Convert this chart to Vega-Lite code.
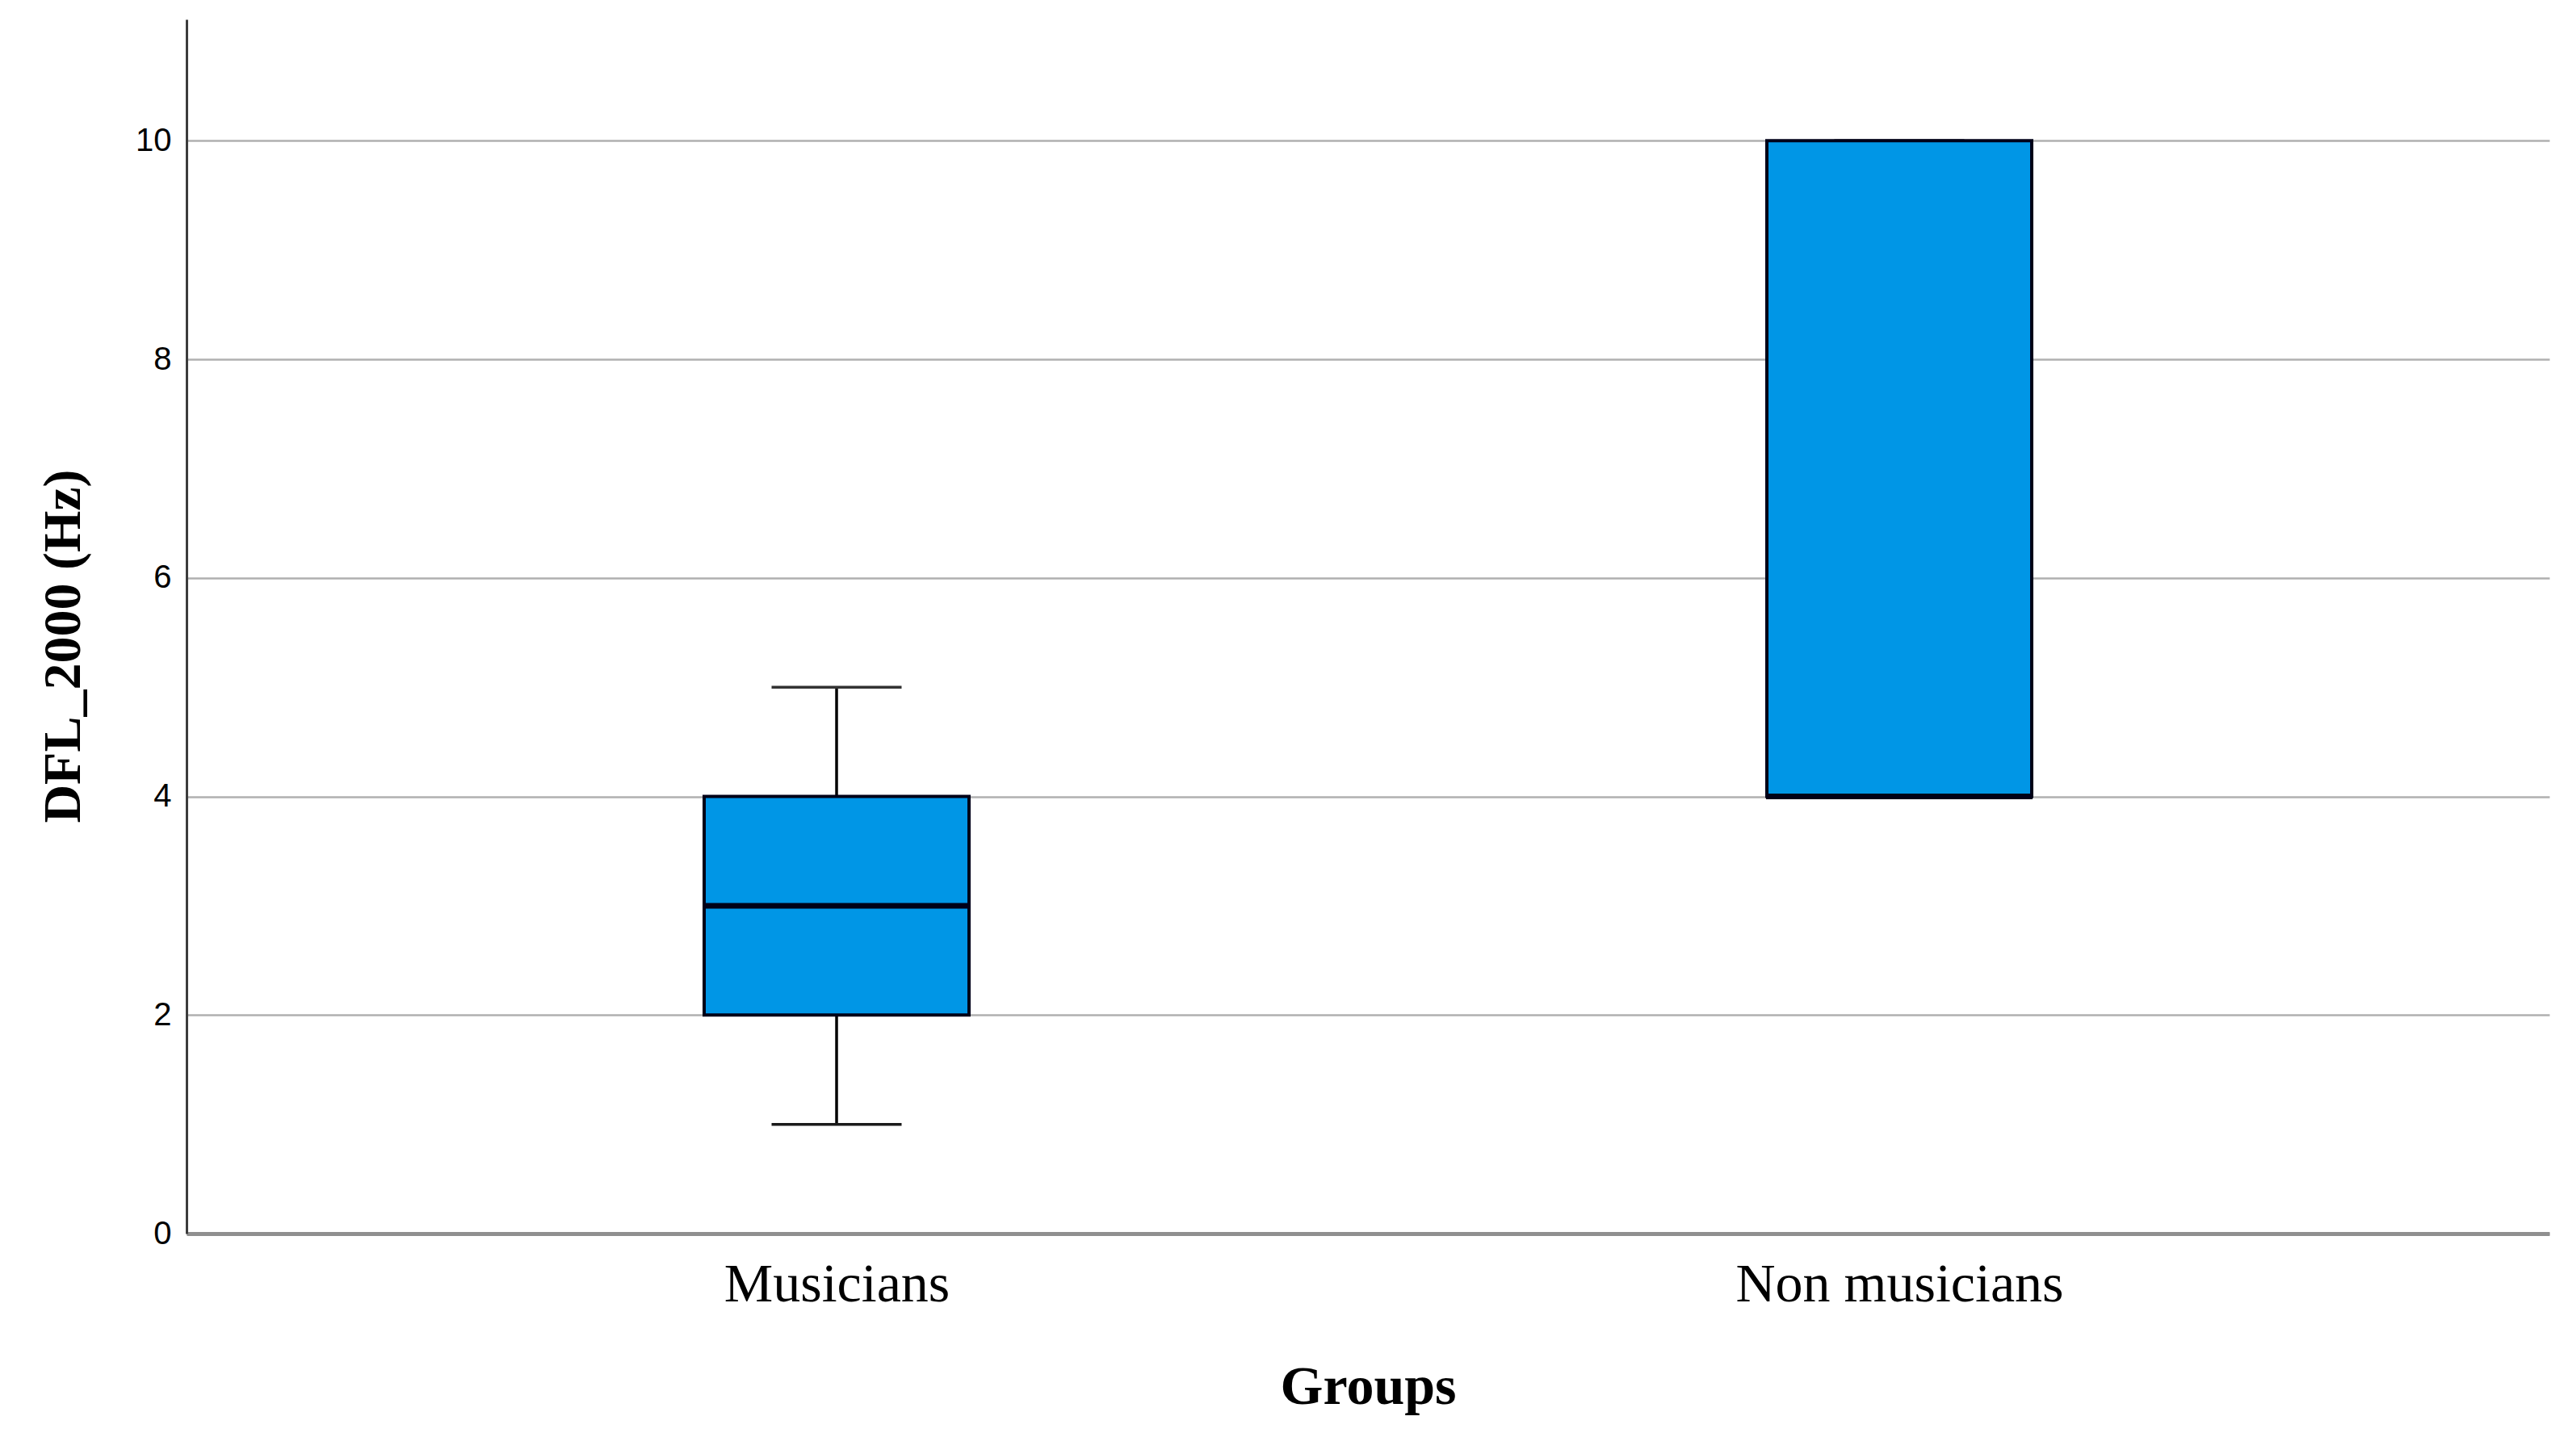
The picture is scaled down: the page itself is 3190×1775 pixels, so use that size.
{
  "$schema": "https://vega.github.io/schema/vega-lite/v6.json",
  "autosize": {"type": "none"},
  "padding": {"left": 231, "top": 24, "right": 33, "bottom": 247},
  "width": 2926,
  "height": 1504,
  "background": "white",
  "data": {
    "values": [
      {"group": "Musicians", "min": 1, "q1": 2, "median": 3, "q3": 4, "max": 5},
      {"group": "Non musicians", "min": 4, "q1": 4, "median": 4, "q3": 10, "max": 10}
    ]
  },
  "encoding": {
    "x": {
      "field": "group",
      "type": "nominal",
      "title": "Groups",
      "sort": ["Musicians", "Non musicians"],
      "scale": {"type": "point", "padding": 0.6117},
      "axis": {"labelAngle": 0, "labelLimit": 0}
    }
  },
  "layer": [
    {
      "mark": {"type": "rule", "color": "#000000", "strokeWidth": 3.5},
      "encoding": {
        "y": {"field": "min", "type": "quantitative", "title": "DFL_2000 (Hz)", "scale": {"domain": [0, 11.11], "nice": false, "zero": true}, "axis": {"values": [0, 2, 4, 6, 8, 10], "format": "d"}},
        "y2": {"field": "q1"}
      }
    },
    {
      "mark": {"type": "rule", "color": "#000000", "strokeWidth": 3.5},
      "encoding": {
        "y": {"field": "q3", "type": "quantitative", "title": "DFL_2000 (Hz)"},
        "y2": {"field": "max"}
      }
    },
    {
      "mark": {"type": "tick", "color": "#1a1a1a", "size": 161, "thickness": 3.5, "opacity": 1},
      "encoding": {
        "y": {"field": "min", "type": "quantitative", "title": "DFL_2000 (Hz)"}
      }
    },
    {
      "mark": {"type": "tick", "color": "#333333", "size": 161, "thickness": 3.5, "opacity": 1},
      "encoding": {
        "y": {"field": "max", "type": "quantitative", "title": "DFL_2000 (Hz)"}
      }
    },
    {
      "mark": {"type": "bar", "size": 328, "fill": "#0096E6", "stroke": "#000018", "strokeWidth": 4, "opacity": 1},
      "encoding": {
        "y": {"field": "q1", "type": "quantitative", "title": "DFL_2000 (Hz)"},
        "y2": {"field": "q3"}
      }
    },
    {
      "mark": {"type": "tick", "color": "#000018", "size": 330, "thickness": 7, "opacity": 1},
      "encoding": {
        "y": {"field": "median", "type": "quantitative", "title": "DFL_2000 (Hz)"}
      }
    }
  ],
  "config": {
    "view": {"stroke": null},
    "axisY": {
      "domain": true,
      "domainColor": "#3c3c3c",
      "domainWidth": 3,
      "grid": true,
      "gridColor": "#b0b0b0",
      "gridWidth": 2.5,
      "ticks": false,
      "tickSize": 0,
      "labelFont": "Liberation Sans",
      "labelFontSize": 40,
      "labelColor": "#000000",
      "labelPadding": 19,
      "titleFont": "Liberation Serif",
      "titleFontWeight": "bold",
      "titleFontSize": 66,
      "titleColor": "#000000",
      "titleX": -133,
      "titleY": 776,
      "titleBaseline": "alphabetic",
      "titleAngle": -90
    },
    "axisX": {
      "domain": true,
      "domainColor": "#8f8f8f",
      "domainWidth": 5,
      "grid": false,
      "ticks": false,
      "tickSize": 0,
      "labelFont": "Liberation Serif",
      "labelFontSize": 68,
      "labelColor": "#000000",
      "labelPadding": 29,
      "titleFont": "Liberation Serif",
      "titleFontWeight": "bold",
      "titleFontSize": 68,
      "titleColor": "#000000",
      "titleY": 210,
      "titleBaseline": "alphabetic"
    }
  }
}
